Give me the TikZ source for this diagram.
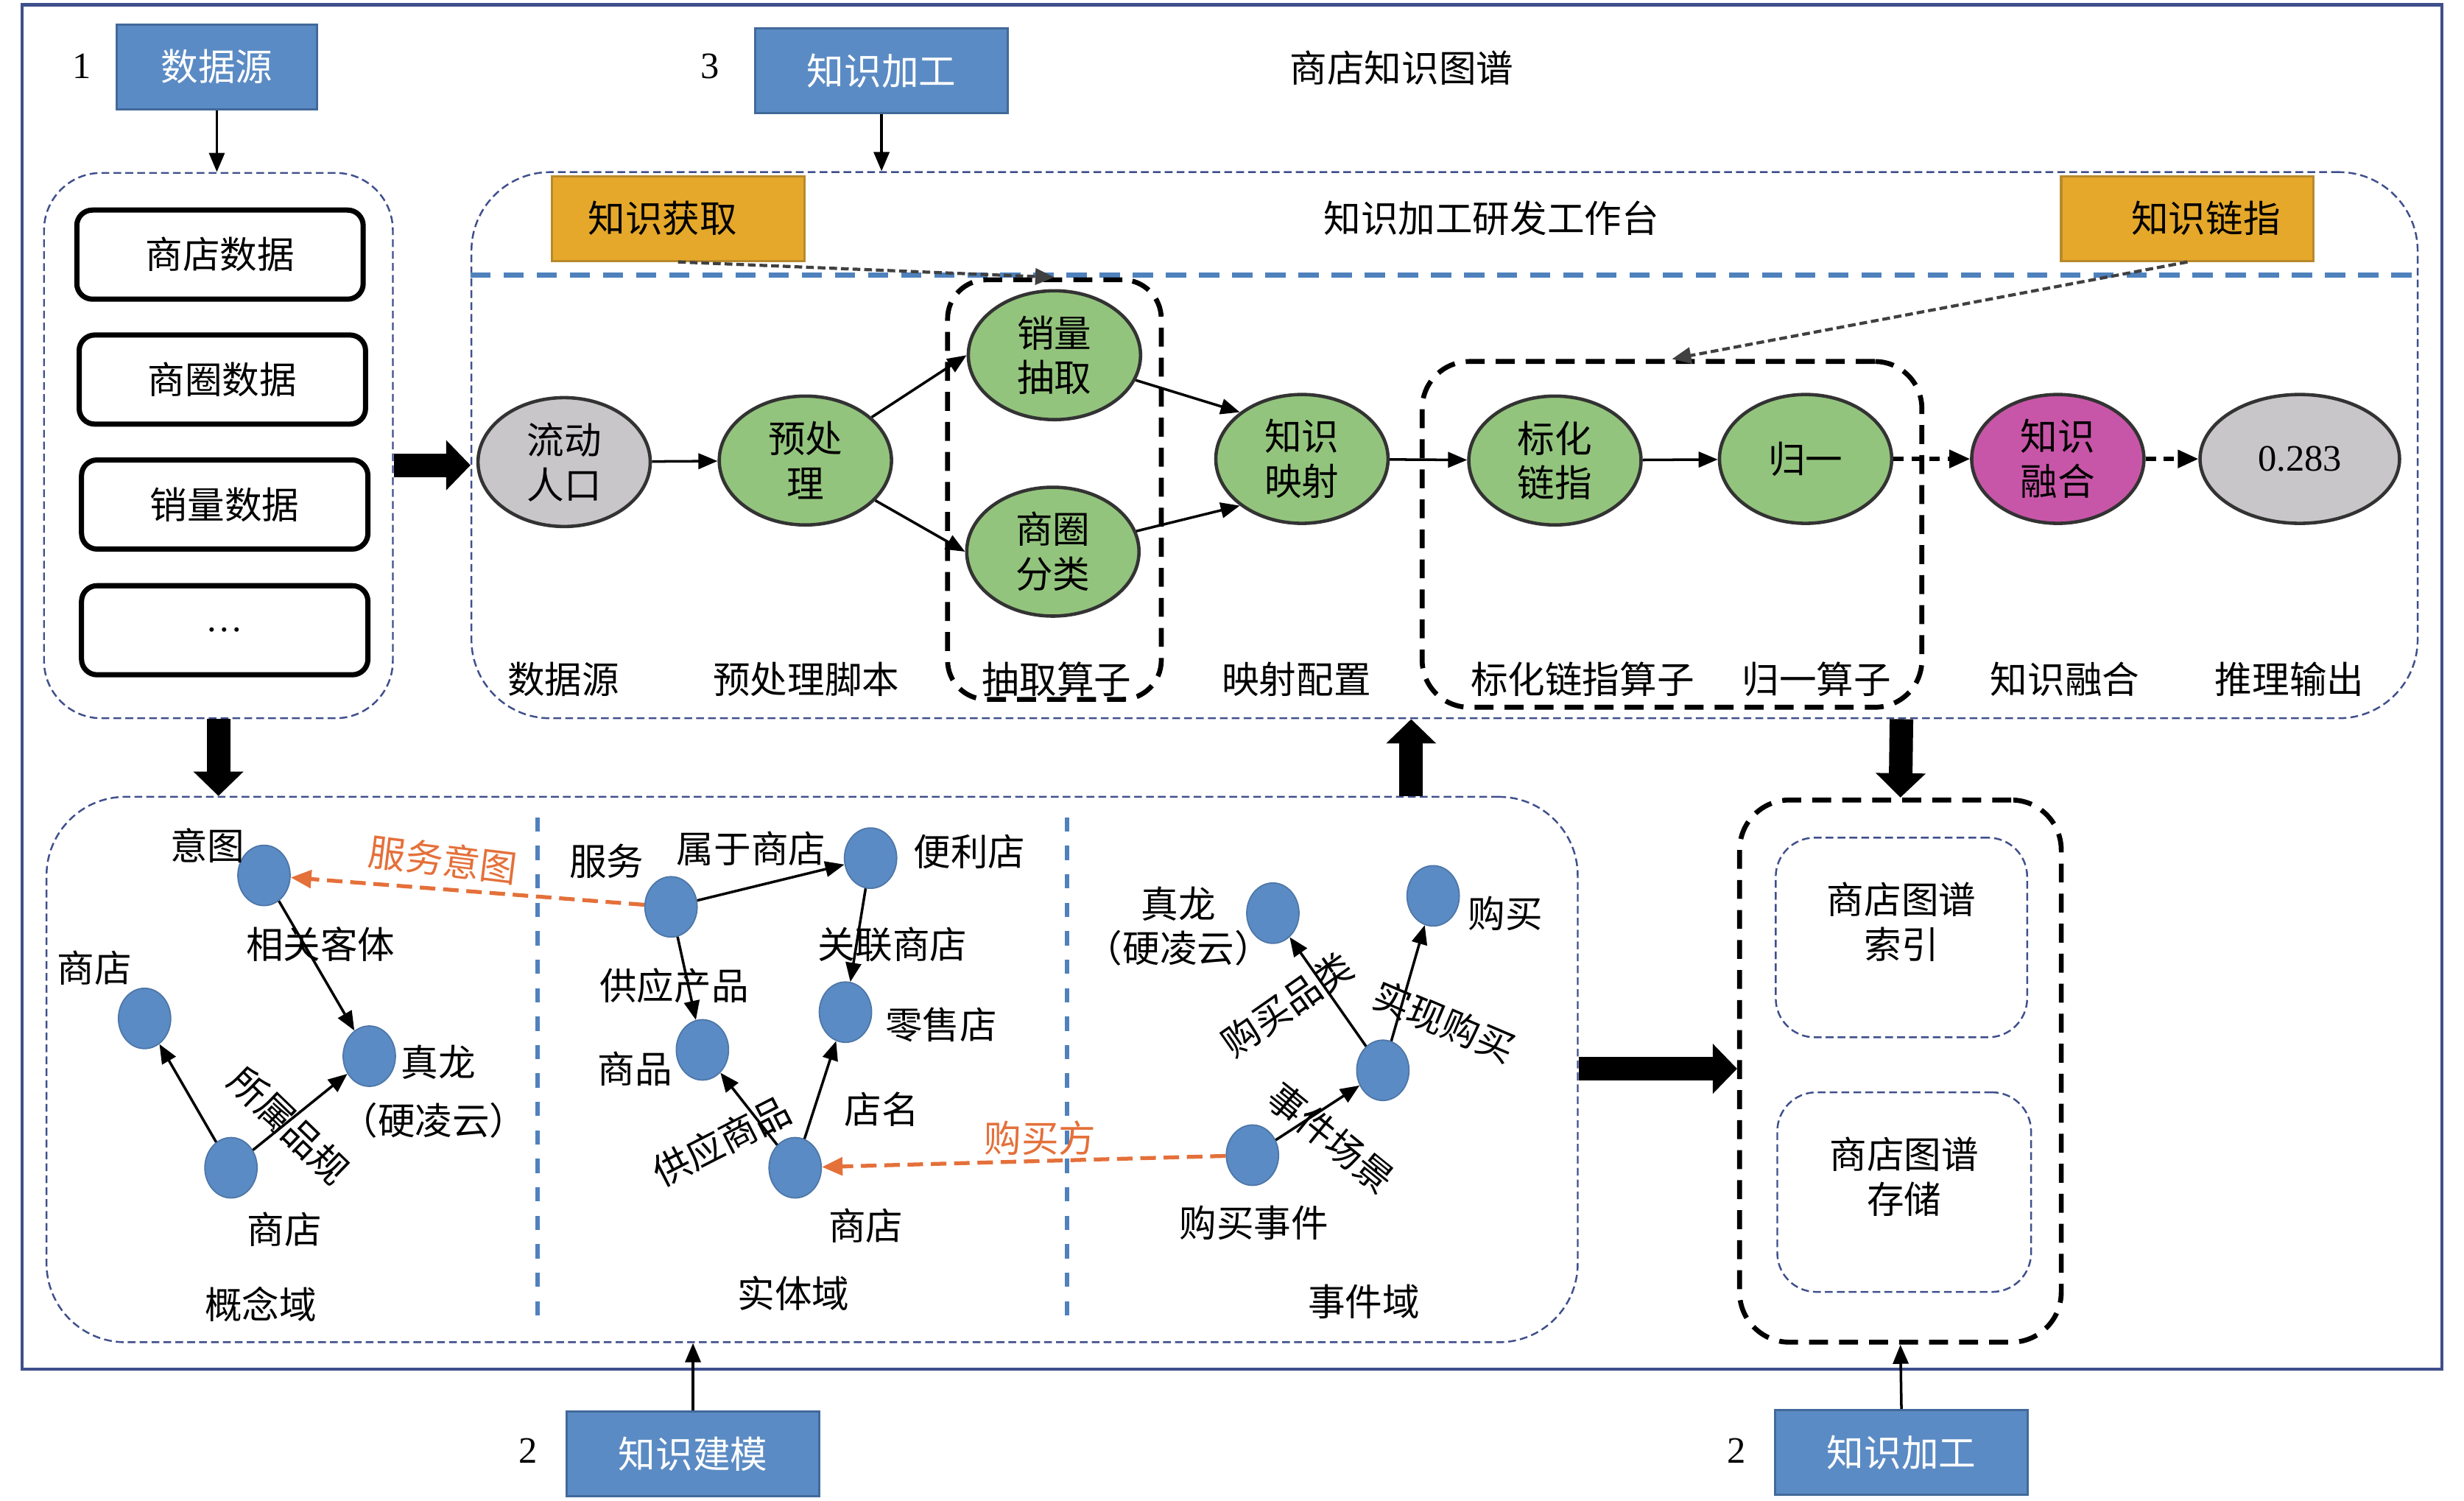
\documentclass[tikz,border=0pt]{standalone}
\usepackage{fontspec}
\setmainfont{Liberation Serif}
\newfontfamily\cjk{Noto Sans CJK SC}
\usepackage{tikz}
\usetikzlibrary{arrows.meta,shapes.geometric,positioning,fit,calc}
\definecolor{tagblue}{HTML}{5B8BC4}
\definecolor{tagedge}{HTML}{41699A}
\definecolor{frameblue}{HTML}{3F4F8C}
\definecolor{lineblue}{HTML}{4F81BD}
\definecolor{amber}{HTML}{E5A82A}
\definecolor{amberedge}{HTML}{B8892C}
\definecolor{leaf}{HTML}{93C47D}
\definecolor{stone}{HTML}{C8C6C8}
\definecolor{plum}{HTML}{C856A8}
\definecolor{rust}{HTML}{E4703A}

\begin{document}
\begin{tikzpicture}[x=0.02134cm,y=-0.02134cm,
  font=\cjk\fontsize{14.4}{17.3}\selectfont,
  num/.style={font=\rmfamily\fontsize{14.4}{17.3}\selectfont},
  tag/.style={draw=tagedge,fill=tagblue,text=white,line width=0.8pt,
              minimum width=3.43cm,minimum height=1.15cm},
  tool/.style={draw=amberedge,fill=amber,line width=0.9pt,text width=3.1cm,
               align=center,minimum width=3.43cm,minimum height=1.15cm},
  srcbox/.style={draw,rounded corners=6pt,line width=2pt,
                 minimum width=3.89cm,minimum height=1.21cm},
  op/.style={ellipse,draw=black!80,line width=1.3pt,fill=leaf,align=center,
             inner sep=0pt,minimum width=2.34cm,minimum height=1.75cm},
  ent/.style={ellipse,fill=tagblue,draw=tagblue!85!black,line width=0.5pt,
              inner sep=0pt,minimum width=0.71cm,minimum height=0.82cm},
  tilt/.style={rotate=#1,inner sep=0pt},
  zone/.style={draw=frameblue,dash pattern=on 3pt off 1.6pt,line width=0.7pt,
               inner sep=0pt},
  grp/.style={draw,dash pattern=on 7.3pt off 4.3pt,line width=1.9pt,inner sep=0pt},
  big/.style={line width=0.32cm,-{Triangle[length=0.33cm,width=0.66cm]}},
  arr/.style={line width=1pt,-{Triangle[length=2.6mm,width=2.1mm]}},
  hint/.style={draw=black!75,line width=1.2pt,dash pattern=on 3pt off 1.5pt,
               -{Triangle[length=2.6mm,width=2.2mm]}},
  flow/.style={line width=1.5pt,dash pattern=on 4pt off 3pt,
               -{Triangle[length=2.8mm,width=2.4mm]}},
  via/.style={draw=rust,line width=1.5pt,dash pattern=on 6pt off 3pt,
              -{Triangle[length=2.8mm,width=2.4mm]}}]
\useasboundingbox (0,0) rectangle (1568,955);
\draw[frameblue,line width=1.2pt] (14,3) rectangle (1554,871);

\node[tag,minimum width=2.72cm] (t1) at (138,42.5) {数据源};
\node[num] (n1) at (52,42) {1};
\node[tag] (t3) at (561,45) {知识加工};
\node[num] (n3) at (452,42) {3};
\node (title) at (892,43) {商店知识图谱};
\node[tag] (t2a) at (441,925) {知识建模};
\node[num] (n2a) at (336,923) {2};
\node[tag] (t2b) at (1210,924) {知识加工};
\node[num] (n2b) at (1105,923) {2};

% data sources
\node[zone,rounded corners=0.78cm,fit={(28,110)(250,457)}] (srcs) {};
\node[srcbox] (s1) at (140,162) {商店数据};
\node[srcbox] (s2) at (141.5,241.5) {商圈数据};
\node[srcbox] (s3) at (143,321) {销量数据};
\node[srcbox] (s4) at (143,401) {\rmfamily\ldots};

% workbench
\node[zone,rounded corners=1.07cm,fit={(300,109.5)(1538.5,457)}] (bench) {};
\draw[lineblue,line width=2pt,dash pattern=on 7.8pt off 5pt]
  (bench.west|-0,175) -- (bench.east|-0,175);
\node (benchname) at (949,139) {知识加工研发工作台};
\node[tool] (acq) at (431.5,139) {\hspace*{-0.42cm}知识获取};
\node[tool] (link) at (1392,139) {\hspace*{0.5cm}知识链指};
\node[op,fill=stone] (pop) at (359,294) {流动\\人口};
\node[op] (pre) at (512.5,293) {预处\\理};
\node[op] (sale) at (671,226) {销量\\抽取};
\node[op] (area) at (670,351) {商圈\\分类};
\node[op] (kmap) at (828.5,292) {知识\\映射};
\node[op] (std) at (989.5,293) {标化\\链指};
\node[op] (norm) at (1149,292) {归一};
\node[op,fill=plum] (fuse) at (1309.5,292) {知识\\融合};
\node[op,fill=stone,minimum width=2.71cm,num] (infer) at (1463.5,292) {0.283};
\node[grp,rounded corners=0.53cm,fit={(603,178)(739,445)}] (extgrp) {};
\node[grp,rounded corners=0.64cm,fit={(905,230)(1223,450)}] (lnkgrp) {};
\foreach \x/\t [count=\i] in {358.5/数据源,513/预处理脚本,672.5/抽取算子,825/映射配置,
    1007/标化链指算子,1156/归一算子,1314/知识融合,1457/推理输出}
  \node (cap\i) at (\x,432) {\t};
\draw[arr] (pop) -- (pre);
\draw[arr] (pre) -- (sale.west);
\draw[arr] (pre) -- (area.west);
\draw[arr] (sale) -- (kmap.north west);
\draw[arr] (area) -- (kmap.south west);
\draw[arr] (kmap) -- (std);
\draw[arr] (std) -- (norm);
\draw[flow] (norm) -- (fuse);
\draw[flow] (fuse) -- (infer);
\draw[hint] (acq.south) -- (extgrp.north);
\draw[hint] (link.south) -- (lnkgrp.north);

% modelling
\node[zone,rounded corners=1.07cm,fit={(29.6,507)(1004,854)}] (model) {};
\foreach \x in {342,679}
  \draw[lineblue,line width=1.6pt,dash pattern=on 5.5pt off 5.5pt] (\x,520) -- (\x,840);
\node[ent] (intent) at (168,557) {};
\node[ent] (shopA) at (92,648) {};
\node[ent] (brand) at (235,672) {};
\node[ent] (shopB) at (147,743) {};
\node (intentlab) at (132,538) {意图};
\node (shopAlab) at (60,616) {商店};
\node (brandlab) at (279,676) {真龙};
\node (brandsub) at (276,713) {（硬凌云）};
\node (shopBlab) at (181,782) {商店};
\node (cdom) at (166,830) {概念域};
\node (r1) at (204,601) {相关客体};
\node[tilt=-44] (r2) at (184,716) {所属品规};
\draw[arr] (intent) -- (brand);
\draw[arr] (shopB) -- (shopA);
\draw[arr] (shopB) -- (brand);

\node[ent] (serve) at (427,577) {};
\node[ent] (conv) at (554,546) {};
\node[ent] (retail) at (538,644) {};
\node[ent] (goods) at (447,668) {};
\node[ent] (shopC) at (506,743) {};
\node (servelab) at (386,548) {服务};
\node (convlab) at (617,542) {便利店};
\node (retaillab) at (599,652) {零售店};
\node (goodslab) at (404,680) {商品};
\node (shopClab) at (551,780) {商店};
\node (edom) at (505,823) {实体域};
\node (r3) at (478,540) {属于商店};
\node (r4) at (568,601) {关联商店};
\node (r5) at (429,627) {供应产品};
\node[tilt=27] (r6) at (459,726) {供应商品};
\node (r7) at (561,706) {店名};
\draw[arr] (serve) -- (conv);
\draw[arr] (conv) -- (retail);
\draw[arr] (serve) -- (goods);
\draw[arr] (shopC) -- (goods);
\draw[arr] (shopC) -- (retail);

\node[ent] (brandE) at (810,581) {};
\node[ent] (buy) at (912,570) {};
\node[ent] (scene) at (880,681) {};
\node[ent] (event) at (797,735) {};
\node (brandElab) at (750,575) {真龙};
\node (brandEsub) at (750,603) {（硬凌云）};
\node (buylab) at (958,581) {购买};
\node (eventlab) at (798,778) {购买事件};
\node (vdom) at (868,828) {事件域};
\node[tilt=35] (r8) at (819,639) {购买品类};
\node[tilt=-23] (r9) at (919,650) {实现购买};
\node[tilt=-39] (r10) at (847,724) {事件场景};
\draw[arr] (scene) -- (brandE);
\draw[arr] (scene) -- (buy);
\draw[arr] (event) -- (scene);

\node[text=rust,tilt=-7] (r11) at (282,547) {服务意图};
\node[text=rust] (r12) at (662,724) {购买方};
\draw[via] (serve) -- (intent);
\draw[via] (event) -- (shopC);

% storage
\node[grp,rounded corners=0.68cm,fit={(1107,509)(1311.7,854)}] (store) {};
\node[zone,rounded corners=0.53cm,align=center,fit={(1130,533)(1290,660)}] (idx) {商店图谱\\索引};
\node[zone,rounded corners=0.53cm,align=center,fit={(1131,695)(1292.5,822)}] (keep) {商店图谱\\存储};

\draw[big] (srcs.east|-0,296) -- (bench.west|-0,296);
\draw[big] (srcs.south) -- (srcs.south|-model.north);
\draw[big] (898,0|-model.north) -- (898,0|-bench.south);
\draw[big] (1210,0|-bench.south) -- (store.north);
\draw[big] (model.east|-0,680) -- (store.west|-0,680);
\draw[arr] (t1.south) -- (t1.south|-srcs.north);
\draw[arr] (t3.south) -- (t3.south|-bench.north);
\draw[arr] (t2a.north) -- (t2a.north|-model.south);
\draw[arr] (t2b.north) -- (store.south);
\end{tikzpicture}
\end{document}
